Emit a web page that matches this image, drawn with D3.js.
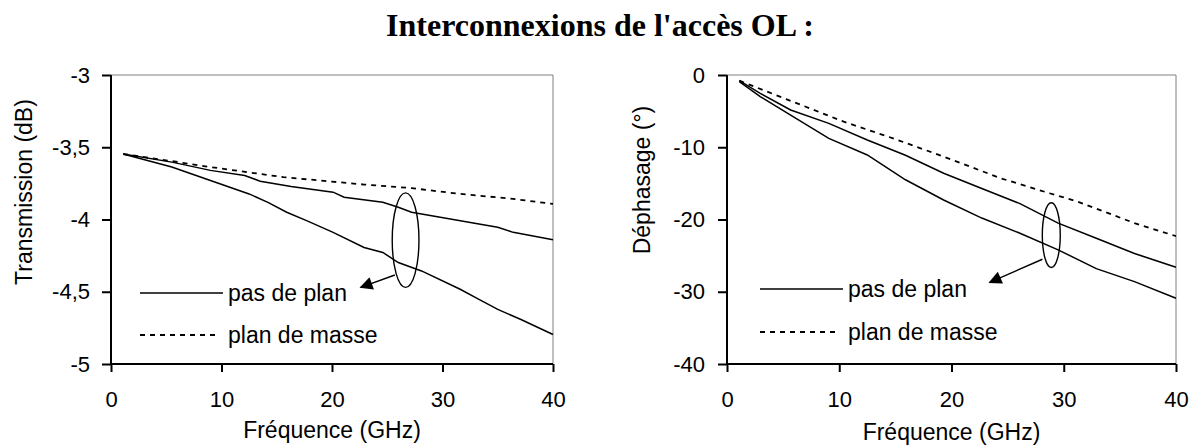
<!DOCTYPE html>
<html><head><meta charset="utf-8">
<script src="https://cdn.jsdelivr.net/npm/d3@7"></script>
<style>
html,body{margin:0;padding:0;background:#fff;}
svg text{font-family:"Liberation Sans",Arial,sans-serif;fill:#000;}
</style></head>
<body>
<svg id="c" width="1198" height="448"></svg>
<script>
// ---------- data ----------
const title = "Interconnexions de l'accès OL :";
const xTicks = [0, 10, 20, 30, 40];
const xTickLabels = ["0", "10", "20", "30", "40"];
const xTitle = "Fréquence (GHz)";
const seriesNames = ["pas de plan", "plan de masse"];

// Left chart : Transmission (dB)
const transTicks = [-3, -3.5, -4, -4.5, -5];
const transTickLabels = ["-3", "-3,5", "-4", "-4,5", "-5"];
const transFreqA = [1.1, 5.5, 9, 12.1, 13.5, 16.3, 20.1, 21.1, 24.6, 26, 27.2, 29.8, 33.3, 35, 36.4, 40];
const transUpper = [-3.547, -3.603, -3.66, -3.695, -3.735, -3.772, -3.811, -3.846, -3.881, -3.915, -3.95, -3.985, -4.031, -4.054, -4.089, -4.14];
const transFreqB = [1.1, 5.5, 9, 12.5, 14.2, 15.9, 17.7, 20.1, 22.9, 24.6, 26, 28.1, 31.6, 33.3, 35, 37.1, 40];
const transLower = [-3.547, -3.637, -3.73, -3.823, -3.881, -3.95, -4.008, -4.089, -4.194, -4.228, -4.298, -4.356, -4.483, -4.553, -4.622, -4.692, -4.796];
const transFreqC = [1.1, 5.5, 9, 15.6, 22.9, 27.2, 31.6, 36.1, 40];
const transMasse = [-3.547, -3.596, -3.637, -3.707, -3.758, -3.783, -3.823, -3.855, -3.892];

// Right chart : Déphasage (°)
const phaseTicks = [0, -10, -20, -30, -40];
const phaseTickLabels = ["0", "-10", "-20", "-30", "-40"];
const phaseFreqA = [1.1, 2.96, 5.67, 9.07, 12.5, 15.9, 19.3, 22.7, 26.1, 29.5, 32.9, 36.3, 40];
const phaseUpper = [-0.78, -2.54, -4.84, -6.69, -9.0, -11.1, -13.6, -15.7, -17.8, -20.5, -22.6, -24.7, -26.6];
const phaseLower = [-0.92, -3.0, -5.54, -8.77, -11.07, -14.5, -17.3, -19.8, -21.9, -24.2, -26.8, -28.6, -30.9];
const phaseFreqC = [1.1, 5.33, 10.4, 14.8, 19.3, 24.4, 28.8, 31.2, 36.3, 40];
const phaseMasse = [-0.78, -3.37, -6.46, -8.77, -11.3, -14.3, -16.4, -17.5, -20.5, -22.3];

// annotations (data units): ellipse centre/radii, arrow start/end
const transNote = {cx: 26.66, cy: -4.143, rx: 1.21, ry: 0.327, x1: 25.69, y1: -4.384, x2: 22.6, y2: -4.47};
const phaseNote = {cx: 28.89, cy: -22.16, rx: 0.8, ry: 4.48, x1: 28.1, y1: -25.5, x2: 23.4, y2: -28.7};

// ---------- drawing ----------
const svg = d3.select("#c");
const FS = 22;   // tick labels
const FT = 23;   // axis titles & legend

svg.append("defs").append("marker")
  .attr("id", "arr").attr("viewBox", "0 0 10 10").attr("refX", 9).attr("refY", 5)
  .attr("markerWidth", 16).attr("markerHeight", 13).attr("markerUnits", "userSpaceOnUse")
  .attr("orient", "auto")
  .append("path").attr("d", "M0,0 L10,5 L0,10 Z").attr("fill", "#000");

svg.append("text").attr("x", 600).attr("y", 36).attr("text-anchor", "middle")
  .style("font-family", "'Liberation Serif','Times New Roman',serif")
  .style("font-weight", "bold").style("font-size", "32px").text(title);

function chart(cfg) {
  const x = d3.scaleLinear().domain([0, 40]).range([cfg.x0, cfg.x1]);
  const y = d3.scaleLinear().domain(cfg.yDomain).range([cfg.yb, cfg.yt]);
  const g = svg.append("g");

  // frame (top & right)
  g.append("line").attr("x1", x(0)).attr("x2", x(40)).attr("y1", y(cfg.yDomain[1])).attr("y2", y(cfg.yDomain[1]))
    .attr("stroke", "#808080").attr("stroke-width", 1);
  g.append("line").attr("x1", x(40)).attr("x2", x(40)).attr("y1", y(cfg.yDomain[0])).attr("y2", y(cfg.yDomain[1]))
    .attr("stroke", "#808080").attr("stroke-width", 1);

  const xa = g.append("g").attr("transform", `translate(0,${cfg.yb})`)
    .call(d3.axisBottom(x).tickValues(xTicks).tickFormat((d, i) => xTickLabels[i]).tickSizeInner(8).tickSizeOuter(0).tickPadding(19));
  const ya = g.append("g").attr("transform", `translate(${cfg.x0},0)`)
    .call(d3.axisLeft(y).tickValues(cfg.ticks).tickFormat((d, i) => cfg.tickLabels[i]).tickSizeInner(9).tickSizeOuter(0).tickPadding(cfg.yPad));
  [xa, ya].forEach(a => {
    a.select(".domain").attr("stroke", "#000").attr("stroke-width", 2);
    a.selectAll(".tick line").attr("stroke", "#000").attr("stroke-width", 2);
    a.selectAll("text").style("font-size", FS + "px").attr("fill", "#000")
      .style("font-family", "'Liberation Sans',Arial,sans-serif");
  });
  ya.select(".domain").attr("d", `M0,${cfg.yb + 1}V${cfg.yt}`);
  xa.select(".domain").attr("d", `M${cfg.x0 - 1},0H${cfg.x1}`);

  const line = d3.line().x(d => x(d[0])).y(d => y(d[1]));
  const mk = (fs, vs) => fs.map((f, i) => [f, vs[i]]);
  cfg.solid.forEach(s => g.append("path").attr("d", line(mk(s[0], s[1])))
    .attr("fill", "none").attr("stroke", "#000").attr("stroke-width", 1.5));
  g.append("path").attr("d", line(mk(cfg.dashed[0], cfg.dashed[1])))
    .attr("fill", "none").attr("stroke", "#000").attr("stroke-width", 1.8).attr("stroke-dasharray", "5,5");

  // legend
  const L = cfg.legend;
  g.append("line").attr("x1", L.x).attr("x2", L.x + 83).attr("y1", L.y1).attr("y2", L.y1)
    .attr("stroke", "#000").attr("stroke-width", 1.6);
  g.append("line").attr("x1", L.x).attr("x2", L.x + 75).attr("y1", L.y2).attr("y2", L.y2)
    .attr("stroke", "#000").attr("stroke-width", 1.8).attr("stroke-dasharray", "5,5");
  g.append("text").attr("x", L.x + 88).attr("y", L.y1 + 8).style("font-size", FT + "px").text(seriesNames[0]);
  g.append("text").attr("x", L.x + 88).attr("y", L.y2 + 8).style("font-size", FT + "px").text(seriesNames[1]);

  // annotation
  const n = cfg.note;
  g.append("ellipse").attr("cx", x(n.cx)).attr("cy", y(n.cy))
    .attr("rx", x(n.rx) - x(0)).attr("ry", Math.abs(y(n.ry) - y(0)))
    .attr("fill", "none").attr("stroke", "#000").attr("stroke-width", 1.4);
  g.append("line").attr("x1", x(n.x1)).attr("y1", y(n.y1)).attr("x2", x(n.x2)).attr("y2", y(n.y2))
    .attr("stroke", "#000").attr("stroke-width", 1.4).attr("marker-end", "url(#arr)");

  // axis titles
  g.append("text").attr("x", (cfg.x0 + cfg.x1) / 2).attr("y", cfg.xTitleY).attr("text-anchor", "middle")
    .style("font-size", FT + "px").text(xTitle);
  g.append("text").attr("transform", `translate(${cfg.yTitleX},${cfg.yTitleC}) rotate(-90)`)
    .attr("text-anchor", "middle").style("font-size", FT + "px").text(cfg.yTitle);
}

chart({
  x0: 111, x1: 553, yt: 75, yb: 364, yDomain: [-5, -3], yPad: 12,
  ticks: transTicks, tickLabels: transTickLabels, yTitle: "Transmission (dB)",
  solid: [[transFreqA, transUpper], [transFreqB, transLower]], dashed: [transFreqC, transMasse],
  legend: {x: 140, y1: 293, y2: 335}, note: transNote,
  xTitleY: 438, yTitleX: 32, yTitleC: 192
});
chart({
  x0: 727, x1: 1176, yt: 75, yb: 364, yDomain: [-40, 0], yPad: 13,
  ticks: phaseTicks, tickLabels: phaseTickLabels, yTitle: "Déphasage (°)",
  solid: [[phaseFreqA, phaseUpper], [phaseFreqA, phaseLower]], dashed: [phaseFreqC, phaseMasse],
  legend: {x: 760, y1: 289, y2: 332}, note: phaseNote,
  xTitleY: 440, yTitleX: 650, yTitleC: 180
});
</script>
</body></html>
